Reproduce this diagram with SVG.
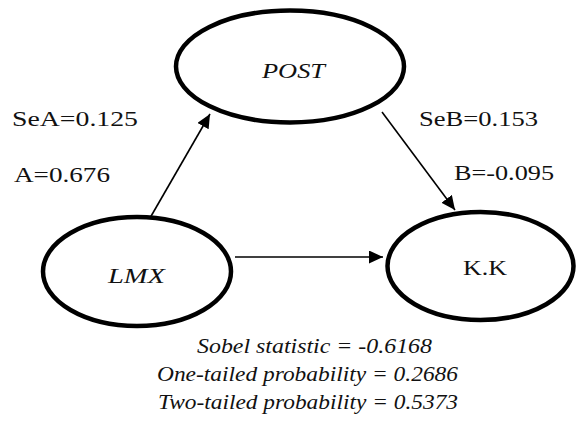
<svg xmlns="http://www.w3.org/2000/svg" width="578" height="430" viewBox="0 0 578 430">
  <style>
    .node { fill: #fff; stroke: #000; stroke-width: 4.5; }
    .edge { stroke: #000; stroke-width: 1.6; fill: none; marker-end: url(#arrow); }
    text { font-size: 21px; fill: #111; }
    .it { font-style: italic; }
  </style>
  <defs>
    <marker id="arrow" markerUnits="userSpaceOnUse" markerWidth="16" markerHeight="14" refX="14" refY="6.5" orient="auto">
      <path d="M0,0 L14,6.5 L0,13 z" fill="#000"/>
    </marker>
  </defs>

  <g font-family="'Liberation Serif', 'Times New Roman', 'DejaVu Serif', serif">
  <g id="POST">
    <ellipse class="node" cx="290" cy="66.5" rx="114" ry="56"/>
    <text class="it" x="262" y="78" textLength="63" lengthAdjust="spacingAndGlyphs">POST</text>
  </g>
  <g id="LMX">
    <ellipse class="node" cx="137" cy="271.5" rx="94" ry="54.5"/>
    <text class="it" x="108" y="283" textLength="57" lengthAdjust="spacingAndGlyphs">LMX</text>
  </g>
  <g id="KK">
    <ellipse class="node" cx="480.5" cy="266" rx="93" ry="54"/>
    <text x="463" y="275" textLength="44" lengthAdjust="spacingAndGlyphs">K.K</text>
  </g>

  <g id="connectors">
    <line class="edge" x1="150" y1="218" x2="210" y2="114"/>
    <line class="edge" x1="382" y1="112" x2="455" y2="210"/>
    <line class="edge" x1="235" y1="257" x2="383" y2="257"/>
  </g>

  <g id="labels">
    <text x="12" y="126" textLength="126" lengthAdjust="spacingAndGlyphs">SeA=0.125</text>
    <text x="14" y="182" textLength="96" lengthAdjust="spacingAndGlyphs">A=0.676</text>
    <text x="419" y="126" textLength="119" lengthAdjust="spacingAndGlyphs">SeB=0.153</text>
    <text x="454" y="180" textLength="100" lengthAdjust="spacingAndGlyphs">B=-0.095</text>
  </g>

  <g id="sobel">
    <text class="it" x="197" y="353" textLength="235" lengthAdjust="spacingAndGlyphs">Sobel statistic = -0.6168</text>
    <text class="it" x="157" y="381" textLength="301" lengthAdjust="spacingAndGlyphs">One-tailed probability = 0.2686</text>
    <text class="it" x="158" y="409" textLength="300" lengthAdjust="spacingAndGlyphs">Two-tailed probability = 0.5373</text>
  </g>
  </g>
</svg>
